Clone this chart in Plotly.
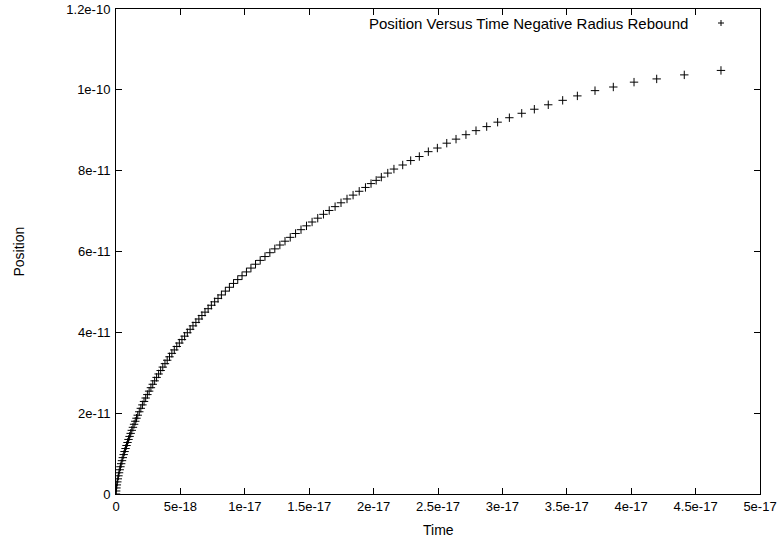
import plotly.graph_objects as go

# Time values (units of 1e-17 s) and Position values (units of 1e-11)
T_SCALE = 1e-17
Y_SCALE = 1e-11

time_e17 = [
    0, 0.0013, 0.0036, 0.0066, 0.0102, 0.0142, 0.0187, 0.0236, 0.0288, 0.0344,
    0.0403, 0.0465, 0.0529, 0.0597, 0.0667, 0.0740, 0.0815, 0.0893, 0.0972, 0.1055,
    0.1139, 0.1225, 0.1314, 0.1405, 0.1497, 0.1592, 0.1688,
    0.1807, 0.1928, 0.2051, 0.2176, 0.2304, 0.2436, 0.2572, 0.2711, 0.2854, 0.3001,
    0.3152, 0.3308, 0.3468, 0.3632, 0.3801, 0.3975, 0.4154, 0.4338, 0.4526, 0.4719,
    0.4917, 0.5120, 0.5327, 0.5539, 0.5755, 0.5976, 0.6202, 0.6433, 0.6669, 0.6909,
    0.7154, 0.7404, 0.7659, 0.7919, 0.8184,
    0.849, 0.8804, 0.9124, 0.9452, 0.9786, 1.0128, 1.0477, 1.0833, 1.1196, 1.1567,
    1.1945, 1.233, 1.2722, 1.3121, 1.3528, 1.3942, 1.4363, 1.4791, 1.5224, 1.5663,
    1.6107, 1.6555, 1.7009, 1.7469, 1.7935, 1.8406, 1.8883, 1.9368, 1.98, 2.02,
    2.06, 2.11, 2.158, 2.226, 2.288, 2.355, 2.425, 2.495, 2.568, 2.640,
    2.717, 2.795, 2.878, 2.963, 3.054, 3.150, 3.248, 3.356, 3.468, 3.582,
    3.719, 3.861, 4.022, 4.198, 4.412, 4.697,
]

position_e11 = [
    0, 0.075, 0.15, 0.225, 0.3, 0.375, 0.45, 0.525, 0.6, 0.675,
    0.75, 0.825, 0.9, 0.975, 1.05, 1.125, 1.2, 1.275, 1.35, 1.425,
    1.5, 1.575, 1.65, 1.725, 1.8, 1.875, 1.95,
    2.035, 2.12, 2.205, 2.29, 2.375, 2.46, 2.545, 2.63, 2.715, 2.8,
    2.885, 2.97, 3.055, 3.14, 3.225, 3.31, 3.395, 3.48, 3.565, 3.65,
    3.735, 3.82, 3.905, 3.99, 4.075, 4.16, 4.245, 4.33, 4.415, 4.5,
    4.585, 4.67, 4.755, 4.84, 4.925,
    5.02, 5.115, 5.21, 5.305, 5.4, 5.495, 5.59, 5.685, 5.78, 5.875,
    5.97, 6.065, 6.16, 6.255, 6.35, 6.445, 6.54, 6.635, 6.73, 6.825,
    6.92, 7.015, 7.11, 7.205, 7.3, 7.395, 7.49, 7.585, 7.68, 7.76,
    7.84, 7.94, 8.04, 8.14, 8.25, 8.35, 8.47, 8.56, 8.68, 8.78,
    8.89, 8.99, 9.09, 9.20, 9.31, 9.42, 9.52, 9.63, 9.74, 9.85,
    9.98, 10.07, 10.19, 10.27, 10.37, 10.48,
]

x_tick_vals = [0, 5e-18, 1e-17, 1.5e-17, 2e-17, 2.5e-17, 3e-17, 3.5e-17, 4e-17, 4.5e-17, 5e-17]
x_tick_text = ["0", "5e-18", "1e-17", "1.5e-17", "2e-17", "2.5e-17", "3e-17", "3.5e-17", "4e-17", "4.5e-17", "5e-17"]
y_tick_vals = [0, 2e-11, 4e-11, 6e-11, 8e-11, 1e-10, 1.2e-10]
y_tick_text = ["0", "2e-11", "4e-11", "6e-11", "8e-11", "1e-10", "1.2e-10"]

series_name = "Position Versus Time Negative Radius Rebound"

x = [v * T_SCALE for v in time_e17]
y = [v * Y_SCALE for v in position_e11]

FONT = "Liberation Sans, Arial, sans-serif"

fig = go.Figure()
fig.add_trace(go.Scatter(
    x=x, y=y, mode="markers", name=series_name,
    marker=dict(symbol="cross-thin", size=6, color="black",
                line=dict(color="black", width=1)),
    showlegend=False,
))

W, H = 782, 544
L, R, T, B = 116, 22, 9, 50
pw, ph = W - L - R, H - T - B

axis_common = dict(
    showline=True, linecolor="black", linewidth=1, mirror="allticks",
    ticks="inside", ticklen=6, tickcolor="black", tickwidth=1,
    showgrid=False, zeroline=False, automargin=False,
    tickfont=dict(family=FONT, size=13, color="black"),
)

fig.update_layout(
    width=W, height=H,
    margin=dict(l=L, r=R, t=T, b=B, pad=0),
    paper_bgcolor="white", plot_bgcolor="white",
    font=dict(family=FONT, size=13, color="black"),
    xaxis=dict(range=[0, 5e-17], tickmode="array", tickvals=x_tick_vals,
               ticktext=x_tick_text, **axis_common),
    yaxis=dict(range=[0, 1.2e-10], tickmode="array", tickvals=y_tick_vals,
               ticktext=y_tick_text, ticklabelstandoff=2, **axis_common),
)

# Axis titles
fig.add_annotation(text="Time", xref="paper", yref="paper", x=0.5, y=0,
                   yshift=-36, showarrow=False, xanchor="center", yanchor="middle",
                   font=dict(family=FONT, size=14, color="black"))
fig.add_annotation(text="Position", xref="paper", yref="paper", x=0, y=0.5,
                   xshift=-(L - 18), showarrow=False, textangle=-90,
                   xanchor="center", yanchor="middle",
                   font=dict(family=FONT, size=14, color="black"))

# Key (gnuplot style: text then sample symbol)
key_x_px = 721 - L
key_y_px = 23 - T
fig.add_annotation(text=series_name, xref="paper", yref="paper",
                   x=(690 - L) / pw, y=1 - key_y_px / ph, showarrow=False,
                   xanchor="right", yanchor="middle",
                   font=dict(family=FONT, size=15, color="black"))
kx = key_x_px / pw
ky = 1 - key_y_px / ph
dx = 3 / pw
dy = 3 / ph
fig.add_shape(type="line", xref="paper", yref="paper", x0=kx - dx, x1=kx + dx,
              y0=ky, y1=ky, line=dict(color="black", width=1))
fig.add_shape(type="line", xref="paper", yref="paper", x0=kx, x1=kx,
              y0=ky - dy, y1=ky + dy, line=dict(color="black", width=1))

fig.write_html("out.html")
